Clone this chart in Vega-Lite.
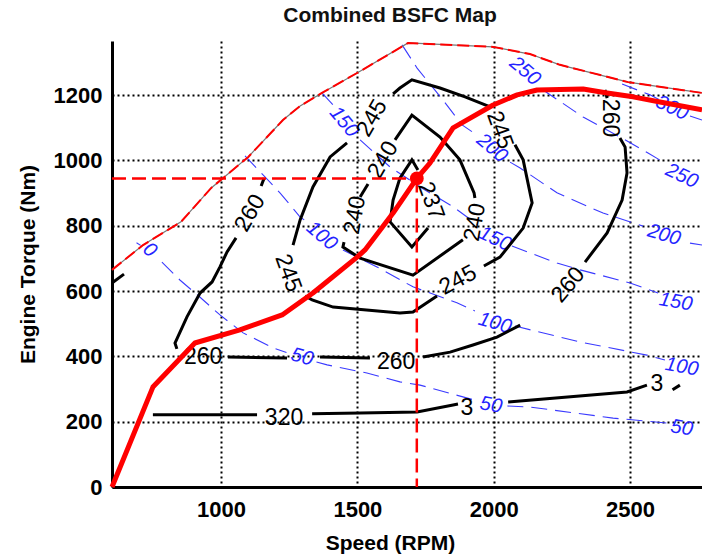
{
"$schema":"https://vega.github.io/schema/vega-lite/v6.json",
"width":590,"height":446,
"autosize":{"type":"none"},
"padding":{"left":112,"top":41,"right":0,"bottom":72},
"background":"white",
"config":{"view":{"stroke":null},"font":"Liberation Sans"},
"title":{"text":"Combined BSFC Map","font":"Liberation Sans","fontSize":21,"fontWeight":"bold","color":"#111","offset":13,"dx":-17,"anchor":"middle"},
"datasets":{
"power":[
{"seg":"p50a","rpm":690,"torque":748},{"seg":"p50a","rpm":705,"torque":740},
{"seg":"p50b","rpm":783,"torque":689},{"seg":"p50b","rpm":849,"torque":634},{"seg":"p50b","rpm":922,"torque":582},{"seg":"p50b","rpm":996,"torque":527},{"seg":"p50b","rpm":1081,"torque":472},{"seg":"p50b","rpm":1191,"torque":426},{"seg":"p50b","rpm":1240,"torque":412},
{"seg":"p50c","rpm":1350,"torque":383},{"seg":"p50c","rpm":1389,"torque":374},{"seg":"p50c","rpm":1535,"torque":349},{"seg":"p50c","rpm":1656,"torque":322},{"seg":"p50c","rpm":1730,"torque":312},{"seg":"p50c","rpm":1887,"torque":276},{"seg":"p50c","rpm":1935,"torque":265},
{"seg":"p50d","rpm":2050,"torque":248},{"seg":"p50d","rpm":2133,"torque":245},{"seg":"p50d","rpm":2438,"torque":211},{"seg":"p50d","rpm":2636,"torque":196},
{"seg":"p100a","rpm":1088,"torque":1014},{"seg":"p100a","rpm":1154,"torque":956},{"seg":"p100a","rpm":1216,"torque":901},{"seg":"p100a","rpm":1290,"torque":827},{"seg":"p100a","rpm":1305,"torque":818},
{"seg":"p100b","rpm":1447,"torque":726},{"seg":"p100b","rpm":1572,"torque":674},{"seg":"p100b","rpm":1704,"torque":613},{"seg":"p100b","rpm":1865,"torque":564},{"seg":"p100b","rpm":1931,"torque":539},
{"seg":"p100c","rpm":2078,"torque":493},{"seg":"p100c","rpm":2317,"torque":444},{"seg":"p100c","rpm":2562,"torque":404},{"seg":"p100c","rpm":2628,"torque":389},
{"seg":"p150a","rpm":1370,"torque":1207},{"seg":"p150a","rpm":1411,"torque":1170},
{"seg":"p150b","rpm":1510,"torque":1063},{"seg":"p150b","rpm":1620,"torque":980},{"seg":"p150b","rpm":1730,"torque":919},{"seg":"p150b","rpm":1851,"torque":858},{"seg":"p150b","rpm":1942,"torque":803},
{"seg":"p150c","rpm":2067,"torque":738},{"seg":"p150c","rpm":2232,"torque":686},{"seg":"p150c","rpm":2317,"torque":665},{"seg":"p150c","rpm":2500,"torque":625},{"seg":"p150c","rpm":2603,"torque":594},
{"seg":"p200a","rpm":1664,"torque":1354},{"seg":"p200a","rpm":1719,"torque":1283},{"seg":"p200a","rpm":1814,"torque":1185},{"seg":"p200a","rpm":1884,"torque":1109},{"seg":"p200a","rpm":1928,"torque":1084},
{"seg":"p200b","rpm":2060,"torque":995},{"seg":"p200b","rpm":2097,"torque":977},{"seg":"p200b","rpm":2232,"torque":901},{"seg":"p200b","rpm":2401,"torque":839},{"seg":"p200b","rpm":2548,"torque":799},
{"seg":"p200c","rpm":2720,"torque":747},{"seg":"p200c","rpm":2764,"torque":741},
{"seg":"p250a","rpm":2181,"torque":1216},{"seg":"p250a","rpm":2328,"torque":1133},{"seg":"p250a","rpm":2463,"torque":1072},{"seg":"p250a","rpm":2566,"torque":1023},{"seg":"p250a","rpm":2632,"torque":990},
{"seg":"p300a","rpm":2471,"torque":1234},{"seg":"p300a","rpm":2573,"torque":1201},{"seg":"p300a","rpm":2610,"torque":1185},
{"seg":"p300b","rpm":2720,"torque":1136},{"seg":"p300b","rpm":2764,"torque":1124}
],
"bsfc":[
{"seg":"s237","ord":1,"rpm":1722,"torque":971},{"seg":"s237","ord":2,"rpm":1700,"torque":1002},{"seg":"s237","ord":3,"rpm":1656,"torque":946},{"seg":"s237","ord":4,"rpm":1631,"torque":879},{"seg":"s237","ord":5,"rpm":1620,"torque":812},{"seg":"s237","ord":6,"rpm":1700,"torque":735},{"seg":"s237","ord":7,"rpm":1759,"torque":793},
{"seg":"s240a","ord":1,"rpm":1887,"torque":757},{"seg":"s240a","ord":2,"rpm":1704,"torque":649},{"seg":"s240a","ord":3,"rpm":1510,"torque":701},{"seg":"s240a","ord":4,"rpm":1447,"torque":735},{"seg":"s240a","ord":5,"rpm":1451,"torque":750},
{"seg":"s240b","ord":1,"rpm":1510,"torque":888},{"seg":"s240b","ord":2,"rpm":1539,"torque":928},
{"seg":"s240c","ord":1,"rpm":1638,"torque":1063},{"seg":"s240c","ord":2,"rpm":1700,"torque":1139},{"seg":"s240c","ord":3,"rpm":1803,"torque":1072},{"seg":"s240c","ord":4,"rpm":1876,"torque":1002},{"seg":"s240c","ord":5,"rpm":1928,"torque":901},{"seg":"s240c","ord":6,"rpm":1931,"torque":885},
{"seg":"s245a","ord":1,"rpm":1631,"torque":1204},{"seg":"s245a","ord":2,"rpm":1656,"torque":1222},{"seg":"s245a","ord":3,"rpm":1700,"torque":1247},{"seg":"s245a","ord":4,"rpm":1803,"torque":1222},{"seg":"s245a","ord":5,"rpm":1895,"torque":1195},{"seg":"s245a","ord":6,"rpm":1987,"torque":1164},
{"seg":"s245b","ord":1,"rpm":2078,"torque":1048},{"seg":"s245b","ord":2,"rpm":2108,"torque":1002},{"seg":"s245b","ord":3,"rpm":2141,"torque":870},{"seg":"s245b","ord":4,"rpm":2108,"torque":793},{"seg":"s245b","ord":5,"rpm":2023,"torque":704},{"seg":"s245b","ord":6,"rpm":1964,"torque":677},
{"seg":"s245c","ord":1,"rpm":1792,"torque":585},{"seg":"s245c","ord":2,"rpm":1704,"torque":536},{"seg":"s245c","ord":3,"rpm":1656,"torque":533},{"seg":"s245c","ord":4,"rpm":1411,"torque":551},{"seg":"s245c","ord":5,"rpm":1334,"torque":573},{"seg":"s245c","ord":6,"rpm":1308,"torque":585},
{"seg":"s245d","ord":1,"rpm":1264,"torque":741},{"seg":"s245d","ord":2,"rpm":1290,"torque":818},{"seg":"s245d","ord":3,"rpm":1337,"torque":919},{"seg":"s245d","ord":4,"rpm":1400,"torque":1011},{"seg":"s245d","ord":5,"rpm":1462,"torque":1054},
{"seg":"s260a","ord":1,"rpm":1158,"torque":946},{"seg":"s260a","ord":2,"rpm":1147,"torque":922},
{"seg":"s260b","ord":1,"rpm":1055,"torque":763},{"seg":"s260b","ord":2,"rpm":1022,"torque":720},{"seg":"s260b","ord":3,"rpm":996,"torque":674},{"seg":"s260b","ord":4,"rpm":967,"torque":628},{"seg":"s260b","ord":5,"rpm":923,"torque":594},{"seg":"s260b","ord":6,"rpm":875,"torque":521},{"seg":"s260b","ord":7,"rpm":831,"torque":441},{"seg":"s260b","ord":8,"rpm":838,"torque":423},
{"seg":"s260c","ord":1,"rpm":1025,"torque":398},{"seg":"s260c","ord":2,"rpm":1242,"torque":395},
{"seg":"s260d","ord":1,"rpm":1363,"torque":398},{"seg":"s260d","ord":2,"rpm":1546,"torque":395},
{"seg":"s260e","ord":1,"rpm":1741,"torque":398},{"seg":"s260e","ord":2,"rpm":1840,"torque":413},{"seg":"s260e","ord":3,"rpm":1924,"torque":435},{"seg":"s260e","ord":4,"rpm":2012,"torque":459},{"seg":"s260e","ord":5,"rpm":2097,"torque":496},
{"seg":"s260f","ord":1,"rpm":2335,"torque":689},{"seg":"s260f","ord":2,"rpm":2416,"torque":778},{"seg":"s260f","ord":3,"rpm":2471,"torque":879},{"seg":"s260f","ord":4,"rpm":2489,"torque":962},{"seg":"s260f","ord":5,"rpm":2482,"torque":1041},{"seg":"s260f","ord":6,"rpm":2463,"torque":1069},
{"seg":"s260g","ord":1,"rpm":2416,"torque":1191},{"seg":"s260g","ord":2,"rpm":2408,"torque":1216},
{"seg":"s320a","ord":1,"rpm":750,"torque":221},{"seg":"s320a","ord":2,"rpm":1132,"torque":221},
{"seg":"s320b","ord":1,"rpm":1334,"torque":224},{"seg":"s320b","ord":2,"rpm":1510,"torque":227},{"seg":"s320b","ord":3,"rpm":1719,"torque":230},{"seg":"s320b","ord":4,"rpm":1851,"torque":251},{"seg":"s320b","ord":5,"rpm":1869,"torque":254},
{"seg":"s320c","ord":1,"rpm":2053,"torque":260},{"seg":"s320c","ord":2,"rpm":2489,"torque":291},{"seg":"s320c","ord":3,"rpm":2562,"torque":312},
{"seg":"s320d","ord":1,"rpm":2656,"torque":298},{"seg":"s320d","ord":2,"rpm":2683,"torque":312},
{"seg":"sedge","ord":1,"rpm":600,"torque":625},{"seg":"sedge","ord":2,"rpm":644,"torque":652}
],
"maxtq":[
{"rpm":600,"torque":665},{"rpm":714,"torque":741},{"rpm":853,"torque":812},{"rpm":964,"torque":916},{"rpm":1100,"torque":1011},{"rpm":1227,"torque":1124},{"rpm":1290,"torque":1167},{"rpm":1370,"torque":1207},{"rpm":1499,"torque":1268},{"rpm":1686,"torque":1360},{"rpm":1998,"torque":1348},{"rpm":2133,"torque":1326},{"rpm":2243,"torque":1293},{"rpm":2493,"torque":1240},{"rpm":2764,"torque":1207}
],
"oper":[
{"rpm":600,"torque":0},{"rpm":750,"torque":306},{"rpm":904,"torque":441},{"rpm":1069,"torque":481},{"rpm":1224,"torque":527},{"rpm":1337,"torque":594},{"rpm":1499,"torque":704},{"rpm":1528,"torque":726},{"rpm":1631,"torque":839},{"rpm":1718,"torque":945},{"rpm":1766,"torque":992},{"rpm":1851,"torque":1100},{"rpm":1998,"torque":1170},{"rpm":2086,"torque":1201},{"rpm":2159,"torque":1216},{"rpm":2328,"torque":1219},{"rpm":2416,"torque":1207},{"rpm":2511,"torque":1195},{"rpm":2610,"torque":1179},{"rpm":2764,"torque":1155}
],
"cross":[
{"seg":"h","ord":1,"rpm":600,"torque":945},{"seg":"h","ord":2,"rpm":1718,"torque":945},
{"seg":"v","ord":1,"rpm":1718,"torque":945},{"seg":"v","ord":2,"rpm":1718,"torque":0}
],
"point":[{"rpm":1718,"torque":945}],
"blabels":[
{"id":"k1","label":"237","rpm":1770,"torque":876},
{"id":"k2","label":"240","rpm":1931,"torque":811},
{"id":"k3","label":"240","rpm":1594,"torque":1002},
{"id":"k4","label":"240","rpm":1491,"torque":833},
{"id":"k5","label":"245","rpm":1554,"torque":1130},
{"id":"k6","label":"245","rpm":2023,"torque":1093},
{"id":"k7","label":"245","rpm":1869,"torque":634},
{"id":"k8","label":"245","rpm":1246,"torque":655},
{"id":"k9","label":"260","rpm":1106,"torque":839},
{"id":"k10","label":"260","rpm":934,"torque":398},
{"id":"k11","label":"260","rpm":1642,"torque":383},
{"id":"k12","label":"260","rpm":2273,"torque":619},
{"id":"k13","label":"260","rpm":2427,"torque":1130},
{"id":"k14","label":"320","rpm":1231,"torque":211},
{"id":"k15","label":"3","rpm":1902,"torque":242},
{"id":"k16","label":"3","rpm":2599,"torque":315}
],
"plabels":[
{"id":"p1","label":"0","rpm":739,"torque":726},
{"id":"p2","label":"50","rpm":1297,"torque":398},
{"id":"p3","label":"50","rpm":1990,"torque":251},
{"id":"p4","label":"50","rpm":2690,"torque":181},
{"id":"p5","label":"100","rpm":1370,"torque":769},
{"id":"p6","label":"100","rpm":2005,"torque":502},
{"id":"p7","label":"100","rpm":2690,"torque":368},
{"id":"p8","label":"150","rpm":1451,"torque":1118},
{"id":"p9","label":"150","rpm":2005,"torque":760},
{"id":"p10","label":"150","rpm":2668,"torque":567},
{"id":"p11","label":"200","rpm":1994,"torque":1038},
{"id":"p12","label":"200","rpm":2625,"torque":772},
{"id":"p13","label":"250","rpm":2115,"torque":1274},
{"id":"p14","label":"250","rpm":2690,"torque":953},
{"id":"p15","label":"300","rpm":2654,"torque":1161}
]
},
"encoding":{
"x":{"field":"rpm","type":"quantitative","scale":{"domain":[600,2764],"nice":false,"zero":false},
"axis":{"orient":"bottom","values":[1000,1500,2000,2500],"format":"d","title":"Speed (RPM)","grid":true,"gridColor":"#000","gridDash":[2,3],"gridWidth":2,"gridOpacity":1,"domainColor":"#000","domainWidth":3,"ticks":false,"tickSize":0,"labelFont":"Liberation Sans","labelFontSize":22,"labelFontWeight":"bold","labelColor":"#000","labelPadding":12,"labelFlush":false,"titleFont":"Liberation Sans","titleFontSize":21,"titleFontWeight":"bold","titleColor":"#000","titlePadding":12,"titleX":278}},
"y":{"field":"torque","type":"quantitative","scale":{"domain":[0,1366],"nice":false,"zero":false},
"axis":{"values":[0,200,400,600,800,1000,1200],"format":"d","title":"Engine Torque (Nm)","grid":true,"gridColor":"#000","gridDash":[2,3],"gridWidth":2,"gridOpacity":1,"domainColor":"#000","domainWidth":3,"ticks":false,"tickSize":0,"labelFont":"Liberation Sans","labelFontSize":22,"labelFontWeight":"bold","labelColor":"#000","labelPadding":10,"labelFlush":false,"titleFont":"Liberation Sans","titleFontSize":21,"titleFontWeight":"bold","titleColor":"#000","titlePadding":15}}
},
"layer":[
{"data":{"name":"power"},"mark":{"type":"line","color":"#3a3aff","strokeWidth":1.1,"strokeDash":[16,8]},"encoding":{"detail":{"field":"seg"}}},
{"data":{"name":"plabels"},"transform":[{"filter":{"field":"id","oneOf":["p1","p5","p11","p13"]}}],"mark":{"type":"text","angle":40,"font":"Liberation Sans","fontStyle":"italic","fontSize":20,"color":"#2424ff","align":"center","baseline":"middle"},"encoding":{"text":{"field":"label"}}},
{"data":{"name":"plabels"},"transform":[{"filter":{"field":"id","oneOf":["p8"]}}],"mark":{"type":"text","angle":50,"font":"Liberation Sans","fontStyle":"italic","fontSize":20,"color":"#2424ff","align":"center","baseline":"middle"},"encoding":{"text":{"field":"label"}}},
{"data":{"name":"plabels"},"transform":[{"filter":{"field":"id","oneOf":["p3","p4","p7","p10"]}}],"mark":{"type":"text","angle":10,"font":"Liberation Sans","fontStyle":"italic","fontSize":20,"color":"#2424ff","align":"center","baseline":"middle"},"encoding":{"text":{"field":"label"}}},
{"data":{"name":"plabels"},"transform":[{"filter":{"field":"id","oneOf":["p2","p6","p12"]}}],"mark":{"type":"text","angle":16,"font":"Liberation Sans","fontStyle":"italic","fontSize":20,"color":"#2424ff","align":"center","baseline":"middle"},"encoding":{"text":{"field":"label"}}},
{"data":{"name":"plabels"},"transform":[{"filter":{"field":"id","oneOf":["p9","p14","p15"]}}],"mark":{"type":"text","angle":25,"font":"Liberation Sans","fontStyle":"italic","fontSize":20,"color":"#2424ff","align":"center","baseline":"middle"},"encoding":{"text":{"field":"label"}}},
{"data":{"name":"bsfc"},"mark":{"type":"line","color":"#000","strokeWidth":3},"encoding":{"detail":{"field":"seg"},"order":{"field":"ord","type":"quantitative"}}},
{"data":{"name":"blabels"},"transform":[{"filter":{"field":"id","oneOf":["k10","k11","k14","k15","k16"]}}],"mark":{"type":"text","angle":0,"font":"Liberation Sans","fontSize":23,"color":"#000","align":"center","baseline":"middle"},"encoding":{"text":{"field":"label"}}},
{"data":{"name":"blabels"},"transform":[{"filter":{"field":"id","oneOf":["k1","k6","k8"]}}],"mark":{"type":"text","angle":70,"font":"Liberation Sans","fontSize":23,"color":"#000","align":"center","baseline":"middle"},"encoding":{"text":{"field":"label"}}},
{"data":{"name":"blabels"},"transform":[{"filter":{"field":"id","oneOf":["k3","k5","k9"]}}],"mark":{"type":"text","angle":-60,"font":"Liberation Sans","fontSize":23,"color":"#000","align":"center","baseline":"middle"},"encoding":{"text":{"field":"label"}}},
{"data":{"name":"blabels"},"transform":[{"filter":{"field":"id","oneOf":["k2","k4"]}}],"mark":{"type":"text","angle":-80,"font":"Liberation Sans","fontSize":23,"color":"#000","align":"center","baseline":"middle"},"encoding":{"text":{"field":"label"}}},
{"data":{"name":"blabels"},"transform":[{"filter":{"field":"id","oneOf":["k7"]}}],"mark":{"type":"text","angle":-28,"font":"Liberation Sans","fontSize":23,"color":"#000","align":"center","baseline":"middle"},"encoding":{"text":{"field":"label"}}},
{"data":{"name":"blabels"},"transform":[{"filter":{"field":"id","oneOf":["k12"]}}],"mark":{"type":"text","angle":-50,"font":"Liberation Sans","fontSize":23,"color":"#000","align":"center","baseline":"middle"},"encoding":{"text":{"field":"label"}}},
{"data":{"name":"blabels"},"transform":[{"filter":{"field":"id","oneOf":["k13"]}}],"mark":{"type":"text","angle":90,"font":"Liberation Sans","fontSize":23,"color":"#000","align":"center","baseline":"middle"},"encoding":{"text":{"field":"label"}}},
{"data":{"name":"maxtq"},"mark":{"type":"line","color":"#777","strokeWidth":1.2},"encoding":{}},
{"data":{"name":"maxtq"},"mark":{"type":"line","color":"#ff0000","strokeWidth":2,"strokeDash":[12,5]},"encoding":{}},
{"data":{"name":"oper"},"mark":{"type":"line","color":"#ff0000","strokeWidth":5,"strokeJoin":"round"},"encoding":{}},
{"data":{"name":"cross"},"mark":{"type":"line","color":"#ff0000","strokeWidth":2.5,"strokeDash":[14,6]},"encoding":{"detail":{"field":"seg"},"order":{"field":"ord","type":"quantitative"}}},
{"data":{"name":"point"},"mark":{"type":"point","filled":true,"color":"#ff0000","opacity":1,"size":190},"encoding":{}},
{"data":{"values":[{}]},"mark":{"type":"rule","color":"#000","strokeWidth":3},"encoding":{"x":{"datum":600,"title":"Speed (RPM)"},"x2":{"datum":2764},"y":{"datum":1366,"title":"Engine Torque (Nm)"}}}
]
}
